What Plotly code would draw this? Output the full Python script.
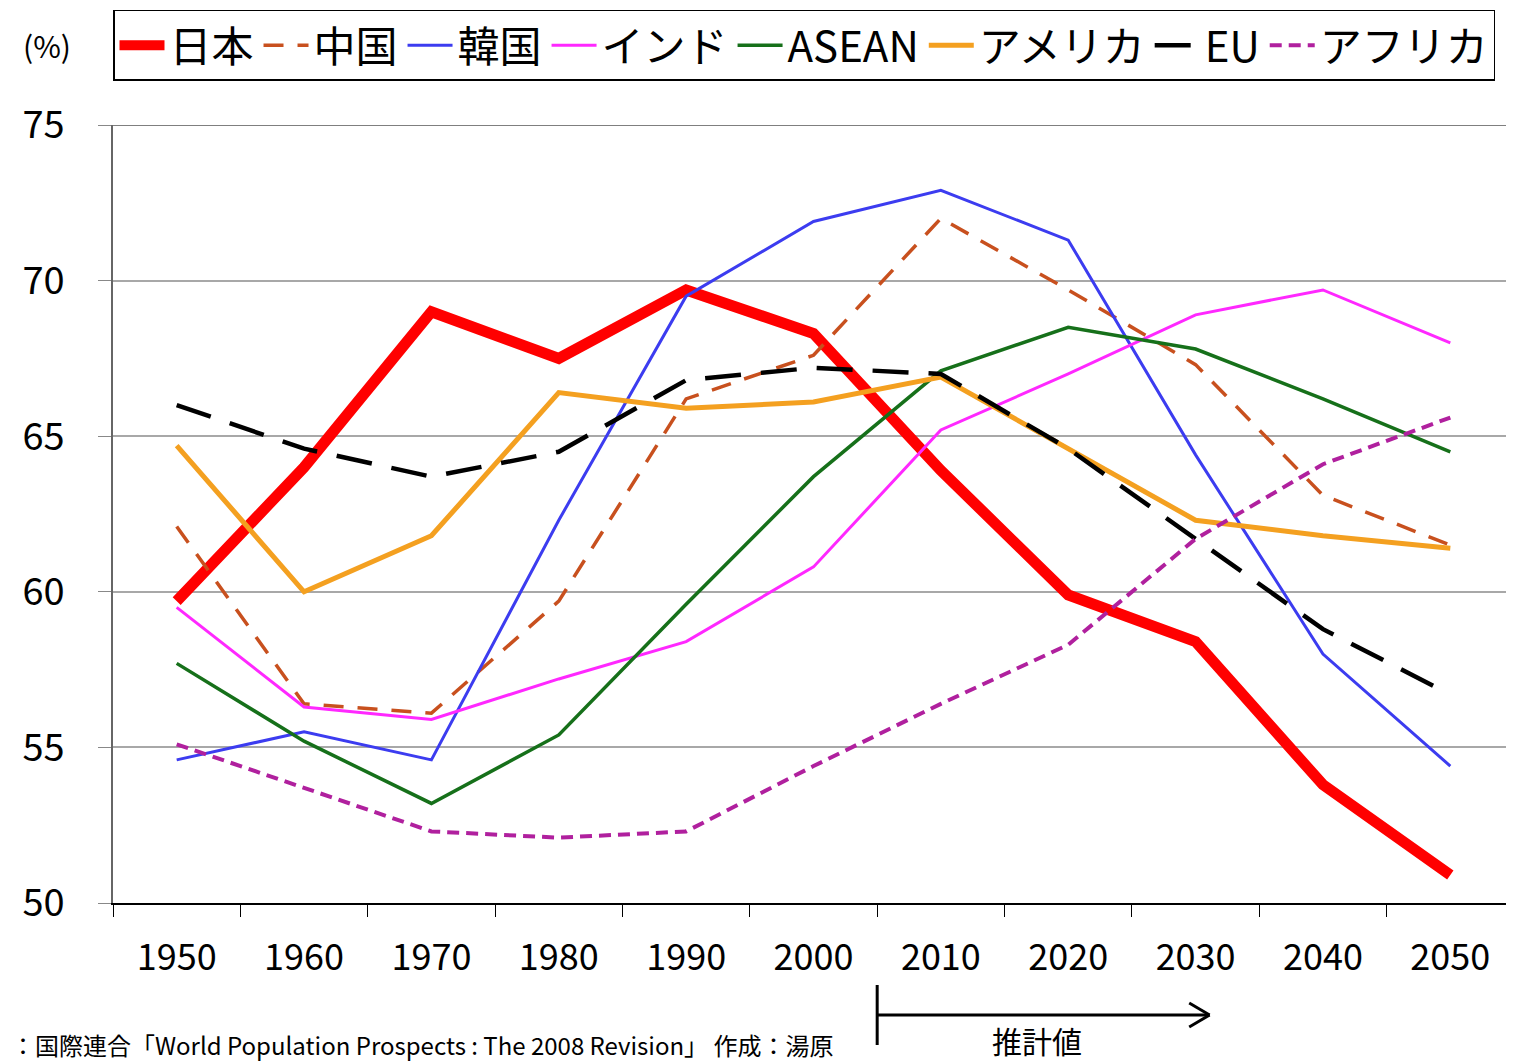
import plotly.graph_objects as go

years = ["1950", "1960", "1970", "1980", "1990", "2000", "2010", "2020", "2030", "2040", "2050"]

japan   = [59.7, 64.0, 69.0, 67.5, 69.7, 68.3, 63.9, 59.9, 58.4, 53.8, 50.9]
china   = [62.1, 56.4, 56.1, 59.7, 66.2, 67.6, 72.0, 69.7, 67.3, 63.1, 61.5]
korea   = [54.6, 55.5, 54.6, 62.3, 69.5, 71.9, 72.9, 71.3, 64.4, 58.0, 54.4]
india   = [59.5, 56.3, 55.9, 57.2, 58.4, 60.8, 65.2, 67.0, 68.9, 69.7, 68.0]
asean   = [57.7, 55.2, 53.2, 55.4, 59.6, 63.7, 67.1, 68.5, 67.8, 66.2, 64.5]
america = [64.7, 60.0, 61.8, 66.4, 65.9, 66.1, 66.9, 64.6, 62.3, 61.8, 61.4]
eu      = [66.0, 64.6, 63.7, 64.5, 66.8, 67.2, 67.0, 64.6, 61.7, 58.8, 56.7]
africa  = [55.1, 53.7, 52.3, 52.1, 52.3, 54.4, 56.4, 58.3, 61.7, 64.1, 65.6]

series = [
    ("日本", japan, "#ff0000", 11, "solid"),
    ("中国", china, "#c8501e", 3.5, "20px,14px"),
    ("韓国", korea, "#3c3cf0", 3, "solid"),
    ("インド", india, "#ff28ff", 3, "solid"),
    ("ASEAN", asean, "#16701a", 3.5, "solid"),
    ("アメリカ", america, "#f4a020", 5, "solid"),
    ("EU", eu, "#000000", 4.5, "36px,20px"),
    ("アフリカ", africa, "#b0209e", 4, "12px,7px"),
]

FONT = "Noto Sans CJK JP"

fig = go.Figure()
for name, vals, color, width, dash in series:
    fig.add_trace(go.Scatter(
        x=years, y=vals, name=name, mode="lines",
        line=dict(color=color, width=width, dash=dash),
    ))

fig.update_layout(
    width=1506, height=1055,
    margin=dict(l=105, r=0, t=117, b=160),
    paper_bgcolor="white", plot_bgcolor="white",
    font=dict(family=FONT, color="black"),
    showlegend=True,
    legend=dict(
        orientation="h", x=0, xanchor="left", y=1.148, yanchor="top",
        bordercolor="black", borderwidth=1.5,
        font=dict(family=FONT, size=42, color="black"),
        itemwidth=45, tracegroupgap=0,
    ),
    xaxis=dict(
        type="category", tickson="boundaries", ticks="outside", ticklen=12,
        tickcolor="black", showline=True, linecolor="black", linewidth=1.5,
        showgrid=False, tickfont=dict(family=FONT, size=36),
        ticklabelstandoff=22,
        range=[-0.5, 10.5],
    ),
    yaxis=dict(
        range=[50, 75], dtick=5, ticks="outside", ticklen=13, tickcolor="#888888",
        showline=True, linecolor="#666666", linewidth=1.5,
        showgrid=True, gridcolor="#a8a8a8", gridwidth=1.5,
        tickfont=dict(family=FONT, size=38), zeroline=False,
        ticklabelstandoff=26,
    ),
)

# top border line at 75
fig.add_shape(type="line", xref="paper", yref="y", x0=0, x1=1, y0=75, y1=75,
              line=dict(color="#555555", width=1.5), layer="below")

def py(p):
    return (903 - p) / 778

def px(p):
    return (p - 113) / 1401

fig.add_annotation(text="(%)", xref="paper", yref="paper",
                   x=px(47), y=py(45), xanchor="center", yanchor="middle",
                   showarrow=False, font=dict(family=FONT, size=30))

# projection arrow
line_style = dict(color="black", width=3)
fig.add_shape(type="line", xref="x", yref="paper", x0=5.5, x1=5.5, y0=py(985), y1=py(1045), line=line_style)
fig.add_shape(type="line", xref="x", yref="paper", x0=5.5, x1=8.11, y0=py(1015), y1=py(1015), line=line_style)
fig.add_shape(type="line", xref="x", yref="paper", x0=7.95, x1=8.11, y0=py(1003), y1=py(1015), line=line_style)
fig.add_shape(type="line", xref="x", yref="paper", x0=7.95, x1=8.11, y0=py(1027), y1=py(1015), line=line_style)
fig.add_annotation(text="推計値", xref="x", yref="paper", x=6.755, y=py(1040),
                   xanchor="center", yanchor="middle", borderpad=0,
                   showarrow=False, font=dict(family=FONT, size=30))

fig.add_annotation(text="：国際連合「World Population Prospects : The 2008 Revision」 作成：湯原",
                   xref="paper", yref="paper", x=px(10), y=py(1044),
                   xanchor="left", yanchor="middle", showarrow=False, borderpad=0,
                   font=dict(family=FONT, size=24))

fig.write_html("out.html")
